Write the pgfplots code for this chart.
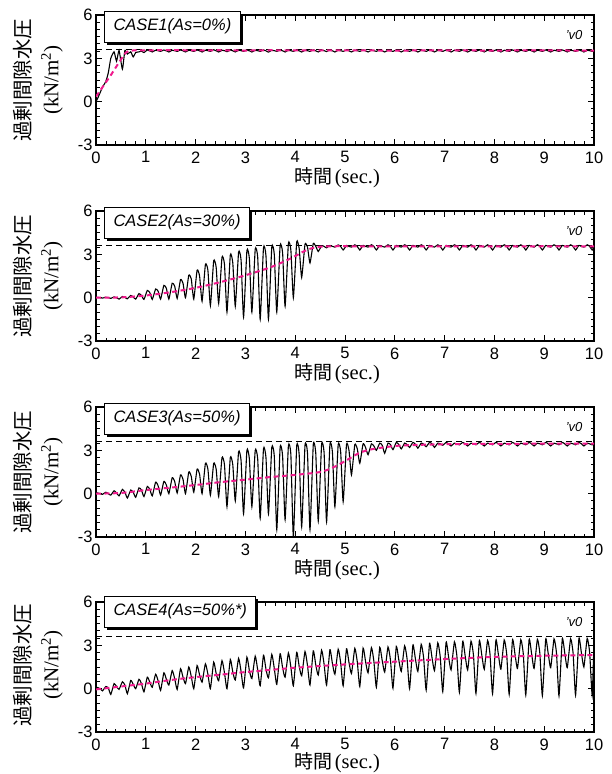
\documentclass[border=0pt]{standalone}
\usepackage{fontspec}
\setmainfont{Liberation Sans}
\newfontfamily\cjk{Noto Sans CJK JP}
\newfontfamily\tnr{Liberation Serif}
\usepackage{pgfplots}
\pgfplotsset{compat=1.18}
\usetikzlibrary{shadows}
\definecolor{Pink}{HTML}{F0198C}

\pgfplotsset{panel/.style={
  scale only axis, width=498pt, height=130pt, anchor=north west,
  xmin=0, xmax=10, ymin=-3, ymax=6,
  xtick={0,...,10}, ytick={-3,0,3,6},
  minor x tick num=4, minor y tick num=5,
  tick pos=both, tick align=inside,
  major tick length=6pt, minor tick length=3.5pt,
  axis line style={line width=1.4pt},
  tick style={black, line width=0.9pt},
  /pgf/number format/assume math mode=true,
  tick label style={font=\fontsize{16.5}{16.5}\selectfont},
  xticklabel style={yshift=-3pt},
}}
\tikzset{
  raw/.style={black, line width=1.1pt, smooth, tension=0.3},
  avg/.style={Pink, line width=2pt, dash pattern=on 5pt off 3.5pt, smooth},
  sig/.style={black, line width=0.9pt, dash pattern=on 6pt off 4pt},
}

\newcommand\deco[2]{%
  \node[rotate=90, font=\cjk\fontsize{20.5}{20.5}\selectfont] at (23pt,{-(#1+65)*1pt}) {過剰間隙水圧};
  \node[rotate=90, font=\tnr\fontsize{21}{21}\selectfont] at (52pt,{-(#1+65)*1pt}) {(kN/m\textsuperscript{2})};
  \node[inner sep=0pt] at (337pt,{-(#1+163)*1pt}) {{\cjk\fontsize{19}{19}\selectfont 時間} {\tnr\fontsize{20.5}{20.5}\selectfont (sec.)}};
  \node[anchor=north west, draw, line width=1pt, fill=white, inner xsep=9pt,
    minimum height=31pt, font=\itshape\fontsize{16.5}{16.5}\selectfont,
    drop shadow={shadow xshift=2.5pt, shadow yshift=-2.5pt, opacity=1, fill=black}]
    at (104pt,{-(#1-4.5)*1pt}) {#2};
}
\newcommand\sigv{\node[font=\itshape\fontsize{13}{13}\selectfont] at (axis cs:9.6,4.6) {'v0};}

\begin{document}
\begin{tikzpicture}
\path[use as bounding box] (0,0) rectangle (612pt,-774pt);

% ---------- CASE1
\begin{axis}[panel, at={(96pt,-15pt)}]
\addplot[sig] coordinates {(0,3.6) (10,3.6)};
\addplot[raw] coordinates {
(0,0)(0.03,0.2)(0.08,0.6)(0.13,1.0)(0.197,1.4)(0.247,2.0)(0.297,3.0)(0.363,3.45)(0.413,2.8)(0.463,3.55)(0.53,2.25)(0.58,3.55)(0.63,3.3)(0.697,3.45)(0.747,3.1)(0.797,3.4)(0.863,3.45)(0.913,3.5)(0.963,3.4)
(1.03,3.58)(1.08,3.52)(1.13,3.44)(1.197,3.56)(1.247,3.53)(1.297,3.48)(1.363,3.58)(1.413,3.52)(1.463,3.44)(1.53,3.56)(1.58,3.53)(1.63,3.48)(1.697,3.58)(1.747,3.52)(1.797,3.44)(1.863,3.56)(1.913,3.53)(1.963,3.48)
(2.03,3.58)(2.08,3.52)(2.13,3.44)(2.197,3.56)(2.247,3.53)(2.297,3.48)(2.363,3.6)(2.413,3.52)(2.463,3.44)(2.53,3.56)(2.58,3.53)(2.63,3.46)(2.697,3.58)(2.747,3.52)(2.797,3.44)(2.863,3.56)(2.913,3.53)(2.963,3.48)
(3.03,3.58)(3.08,3.52)(3.13,3.44)(3.197,3.56)(3.247,3.53)(3.297,3.48)(3.363,3.58)(3.413,3.52)(3.463,3.43)(3.53,3.56)(3.58,3.53)(3.63,3.48)(3.697,3.58)(3.747,3.52)(3.797,3.44)(3.863,3.56)(3.913,3.53)(3.963,3.48)
(4.03,3.58)(4.08,3.52)(4.13,3.44)(4.197,3.56)(4.247,3.53)(4.297,3.48)(4.363,3.58)(4.413,3.52)(4.463,3.44)(4.53,3.57)(4.58,3.53)(4.63,3.47)(4.697,3.58)(4.747,3.52)(4.797,3.44)(4.863,3.56)(4.913,3.53)(4.963,3.48)
(5.03,3.58)(5.08,3.52)(5.13,3.44)(5.197,3.56)(5.247,3.53)(5.297,3.48)(5.363,3.58)(5.413,3.52)(5.463,3.44)(5.53,3.56)(5.58,3.53)(5.63,3.48)(5.697,3.59)(5.747,3.52)(5.797,3.44)(5.863,3.56)(5.913,3.53)(5.963,3.48)
(6.03,3.58)(6.08,3.52)(6.13,3.44)(6.197,3.56)(6.247,3.53)(6.297,3.48)(6.363,3.58)(6.413,3.52)(6.463,3.44)(6.53,3.56)(6.58,3.53)(6.63,3.48)(6.697,3.58)(6.747,3.52)(6.797,3.44)(6.863,3.56)(6.913,3.53)(6.963,3.48)
(7.03,3.58)(7.08,3.52)(7.13,3.44)(7.197,3.56)(7.247,3.53)(7.297,3.48)(7.363,3.58)(7.413,3.52)(7.463,3.44)(7.53,3.56)(7.58,3.53)(7.63,3.48)(7.697,3.58)(7.747,3.52)(7.797,3.44)(7.863,3.56)(7.913,3.53)(7.963,3.48)
(8.03,3.58)(8.08,3.52)(8.13,3.44)(8.197,3.56)(8.247,3.53)(8.297,3.48)(8.363,3.58)(8.413,3.52)(8.463,3.44)(8.53,3.56)(8.58,3.53)(8.63,3.48)(8.697,3.58)(8.747,3.52)(8.797,3.44)(8.863,3.56)(8.913,3.53)(8.963,3.48)
(9.03,3.58)(9.08,3.52)(9.13,3.44)(9.197,3.56)(9.247,3.53)(9.297,3.48)(9.363,3.58)(9.413,3.52)(9.463,3.44)(9.53,3.56)(9.58,3.53)(9.63,3.48)(9.697,3.58)(9.747,3.52)(9.797,3.44)(9.863,3.56)(9.913,3.53)(9.963,3.48)(10,3.52)};
\addplot[avg] coordinates {(0,0.35)(0.15,1.1)(0.3,1.85)(0.45,2.65)(0.6,3.4)(0.7,3.52)(0.8,3.56)(1,3.55)(1.5,3.57)(2,3.55)(2.5,3.56)(3,3.54)(3.5,3.56)(4,3.55)(5,3.55)(6,3.54)(7,3.55)(8,3.54)(9,3.55)(10,3.53)};
\sigv
\end{axis}

% ---------- CASE2
\begin{axis}[panel, at={(96pt,-211pt)}]
\addplot[sig] coordinates {(0,3.6) (10,3.6)};
\addplot[raw] coordinates {
(0,0)(0.03,0.02)(0.08,0.0)(0.13,-0.03)(0.197,0.03)(0.247,0.0)(0.297,-0.05)(0.363,0.05)(0.413,0.0)(0.463,-0.1)(0.53,0.08)(0.58,0.02)(0.63,-0.08)(0.697,0.15)(0.747,0.05)(0.797,-0.1)(0.863,0.28)(0.913,0.15)(0.963,-0.12)
(1.03,0.5)(1.08,0.35)(1.13,-0.12)(1.197,0.6)(1.247,0.45)(1.297,-0.1)(1.363,0.85)(1.413,0.65)(1.463,-0.1)(1.53,1.0)(1.58,0.8)(1.63,-0.05)(1.697,1.25)(1.747,1.0)(1.797,0.0)(1.863,1.55)(1.913,1.3)(1.963,-0.1)
(2.03,1.9)(2.08,1.5)(2.13,-0.25)(2.197,2.3)(2.247,1.9)(2.297,-0.55)(2.363,2.55)(2.413,2.1)(2.463,-0.4)(2.53,2.8)(2.58,2.3)(2.63,-1.0)(2.697,2.95)(2.747,2.4)(2.797,-0.6)(2.863,3.15)(2.913,2.6)(2.963,-1.35)
(3.03,3.25)(3.08,2.7)(3.13,-1.0)(3.197,3.35)(3.247,2.8)(3.297,-1.5)(3.363,3.45)(3.413,2.9)(3.463,-1.5)(3.53,3.5)(3.58,3.0)(3.63,-1.0)(3.697,3.6)(3.747,3.1)(3.797,-0.6)(3.863,3.75)(3.913,3.3)(3.963,0.0)
(4.03,3.85)(4.08,3.4)(4.13,1.4)(4.197,3.7)(4.247,3.5)(4.297,2.4)(4.363,3.75)(4.413,3.55)(4.463,3.2)(4.53,3.6)(4.58,3.55)(4.63,3.45)(4.697,3.62)(4.747,3.55)(4.797,3.5)(4.863,3.65)(4.913,3.55)(4.963,3.3)
(5.03,3.62)(5.08,3.55)(5.13,3.5)(5.197,3.66)(5.247,3.55)(5.297,3.3)(5.363,3.62)(5.413,3.55)(5.463,3.5)(5.53,3.66)(5.58,3.55)(5.63,3.3)(5.697,3.62)(5.747,3.55)(5.797,3.5)(5.863,3.66)(5.913,3.55)(5.963,3.3)
(6.03,3.62)(6.08,3.55)(6.13,3.5)(6.197,3.66)(6.247,3.55)(6.297,3.3)(6.363,3.62)(6.413,3.55)(6.463,3.5)(6.53,3.66)(6.58,3.55)(6.63,3.3)(6.697,3.62)(6.747,3.55)(6.797,3.5)(6.863,3.66)(6.913,3.55)(6.963,3.3)
(7.03,3.62)(7.08,3.55)(7.13,3.5)(7.197,3.66)(7.247,3.55)(7.297,3.3)(7.363,3.62)(7.413,3.55)(7.463,3.5)(7.53,3.66)(7.58,3.55)(7.63,3.3)(7.697,3.62)(7.747,3.55)(7.797,3.5)(7.863,3.66)(7.913,3.55)(7.963,3.3)
(8.03,3.62)(8.08,3.55)(8.13,3.5)(8.197,3.66)(8.247,3.55)(8.297,3.3)(8.363,3.62)(8.413,3.55)(8.463,3.5)(8.53,3.66)(8.58,3.55)(8.63,3.3)(8.697,3.62)(8.747,3.55)(8.797,3.5)(8.863,3.66)(8.913,3.55)(8.963,3.3)
(9.03,3.62)(9.08,3.55)(9.13,3.5)(9.197,3.66)(9.247,3.55)(9.297,3.3)(9.363,3.62)(9.413,3.55)(9.463,3.5)(9.53,3.66)(9.58,3.55)(9.63,3.3)(9.697,3.62)(9.747,3.55)(9.797,3.5)(9.863,3.66)(9.913,3.55)(9.963,3.3)(10,3.55)};
\addplot[avg] coordinates {(0,0)(0.5,0.02)(1,0.15)(1.5,0.38)(2,0.68)(2.5,1.08)(3,1.55)(3.5,2.1)(3.9,2.7)(4.2,3.25)(4.4,3.48)(4.6,3.55)(5,3.56)(6,3.55)(7,3.56)(8,3.55)(9,3.56)(10,3.55)};
\sigv
\end{axis}

% ---------- CASE3
\begin{axis}[panel, at={(96pt,-407pt)}]
\addplot[sig] coordinates {(0,3.6) (10,3.6)};
\addplot[raw] coordinates {
(0,0)(0.03,0.05)(0.08,0.0)(0.13,-0.05)(0.197,0.1)(0.247,0.0)(0.297,-0.1)(0.363,0.2)(0.413,0.05)(0.463,-0.15)(0.53,0.3)(0.58,0.1)(0.63,-0.3)(0.697,0.25)(0.747,0.1)(0.797,-0.25)(0.863,0.4)(0.913,0.25)(0.963,-0.2)
(1.03,0.5)(1.08,0.3)(1.13,-0.15)(1.197,0.8)(1.247,0.55)(1.297,-0.1)(1.363,0.85)(1.413,0.6)(1.463,0.0)(1.53,1.1)(1.58,0.85)(1.63,0.05)(1.697,1.3)(1.747,1.0)(1.797,0.0)(1.863,1.5)(1.913,1.2)(1.963,0.1)
(2.03,1.7)(2.08,1.35)(2.13,0.0)(2.197,2.1)(2.247,1.7)(2.297,-0.1)(2.363,2.1)(2.413,1.7)(2.463,-0.2)(2.53,2.5)(2.58,2.0)(2.63,-0.9)(2.697,2.5)(2.747,2.0)(2.797,-0.5)(2.863,2.9)(2.913,2.3)(2.963,-1.4)
(3.03,3.0)(3.08,2.4)(3.13,-0.9)(3.197,3.0)(3.247,2.4)(3.297,-1.7)(3.363,3.1)(3.413,2.5)(3.463,-1.4)(3.53,3.2)(3.58,2.6)(3.63,-2.5)(3.697,3.2)(3.747,2.6)(3.797,-1.8)(3.863,3.3)(3.913,2.7)(3.963,-3.0)
(4.03,3.3)(4.08,2.7)(4.13,-2.3)(4.197,3.35)(4.247,2.8)(4.297,-2.5)(4.363,3.4)(4.413,2.8)(4.463,-1.9)(4.53,3.4)(4.58,2.85)(4.63,-1.95)(4.697,3.4)(4.747,2.9)(4.797,-0.9)(4.863,3.4)(4.913,2.9)(4.963,-0.55)
(5.03,3.4)(5.08,3.0)(5.13,1.3)(5.197,3.4)(5.247,3.1)(5.297,2.1)(5.363,3.45)(5.413,3.2)(5.463,2.7)(5.53,3.45)(5.58,3.3)(5.63,3.0)(5.697,3.5)(5.747,3.35)(5.797,2.8)(5.863,3.5)(5.913,3.4)(5.963,3.05)
(6.03,3.55)(6.08,3.4)(6.13,3.1)(6.197,3.5)(6.247,3.4)(6.297,3.2)(6.363,3.55)(6.413,3.42)(6.463,3.15)(6.53,3.5)(6.58,3.42)(6.63,3.25)(6.697,3.55)(6.747,3.45)(6.797,3.2)(6.863,3.5)(6.913,3.45)(6.963,3.35)
(7.03,3.55)(7.08,3.45)(7.13,3.3)(7.197,3.5)(7.247,3.45)(7.297,3.38)(7.363,3.55)(7.413,3.45)(7.463,3.3)(7.53,3.5)(7.58,3.45)(7.63,3.38)(7.697,3.55)(7.747,3.45)(7.797,3.3)(7.863,3.5)(7.913,3.45)(7.963,3.38)
(8.03,3.55)(8.08,3.45)(8.13,3.3)(8.197,3.5)(8.247,3.45)(8.297,3.38)(8.363,3.55)(8.413,3.45)(8.463,3.3)(8.53,3.5)(8.58,3.45)(8.63,3.38)(8.697,3.55)(8.747,3.45)(8.797,3.3)(8.863,3.5)(8.913,3.45)(8.963,3.38)
(9.03,3.55)(9.08,3.45)(9.13,3.3)(9.197,3.5)(9.247,3.45)(9.297,3.38)(9.363,3.55)(9.413,3.45)(9.463,3.3)(9.53,3.5)(9.58,3.45)(9.63,3.38)(9.697,3.55)(9.747,3.45)(9.797,3.3)(9.863,3.5)(9.913,3.45)(9.963,3.38)(10,3.45)};
\addplot[avg] coordinates {(0,0)(0.5,0.05)(1,0.25)(1.5,0.42)(2,0.6)(2.5,0.8)(3,0.97)(3.5,1.15)(4,1.3)(4.5,1.5)(4.75,1.8)(5,2.25)(5.25,2.75)(5.5,3.05)(6,3.3)(6.5,3.38)(7,3.42)(8,3.45)(9,3.46)(10,3.47)};
\sigv
\end{axis}

% ---------- CASE4
\begin{axis}[panel, at={(96pt,-602pt)}]
\addplot[sig] coordinates {(0,3.6) (10,3.6)};
\addplot[raw] coordinates {
(0,-0.05)(0.03,0.08)(0.08,0.0)(0.13,-0.15)(0.197,0.15)(0.247,0.05)(0.297,-0.4)(0.363,0.35)(0.413,0.15)(0.463,-0.05)(0.53,0.48)(0.58,0.25)(0.63,-0.35)(0.697,0.57)(0.747,0.3)(0.797,0.0)(0.863,0.65)(0.913,0.35)(0.963,-0.22)
(1.03,0.8)(1.08,0.45)(1.13,0.1)(1.197,1.0)(1.247,0.55)(1.297,-0.12)(1.363,1.1)(1.413,0.65)(1.463,0.25)(1.53,1.25)(1.58,0.7)(1.63,-0.05)(1.697,1.38)(1.747,0.8)(1.797,0.35)(1.863,1.5)(1.913,0.85)(1.963,0.0)
(2.03,1.6)(2.08,0.95)(2.13,0.45)(2.197,1.72)(2.247,1.0)(2.297,0.0)(2.363,1.84)(2.413,1.05)(2.463,0.55)(2.53,1.94)(2.58,1.1)(2.63,0.0)(2.697,2.02)(2.747,1.15)(2.797,0.6)(2.863,2.1)(2.913,1.2)(2.963,0.05)
(3.03,2.18)(3.08,1.25)(3.13,0.7)(3.197,2.25)(3.247,1.3)(3.297,0.2)(3.363,2.32)(3.413,1.35)(3.463,0.75)(3.53,2.37)(3.58,1.4)(3.63,0.3)(3.697,2.42)(3.747,1.45)(3.797,0.8)(3.863,2.47)(3.913,1.5)(3.963,0.2)
(4.03,2.52)(4.08,1.55)(4.13,0.9)(4.197,2.57)(4.247,1.6)(4.297,0.25)(4.363,2.62)(4.413,1.65)(4.463,0.95)(4.53,2.66)(4.58,1.7)(4.63,0.25)(4.697,2.7)(4.747,1.75)(4.797,1.0)(4.863,2.73)(4.913,1.8)(4.963,0.2)
(5.03,2.76)(5.08,1.82)(5.13,1.05)(5.197,2.79)(5.247,1.85)(5.297,0.15)(5.363,2.81)(5.413,1.88)(5.463,1.1)(5.53,2.84)(5.58,1.9)(5.63,0.1)(5.697,2.86)(5.747,1.95)(5.797,1.15)(5.863,2.89)(5.913,1.98)(5.963,0.03)
(6.03,2.92)(6.08,2.0)(6.13,1.2)(6.197,2.97)(6.247,2.05)(6.297,0.0)(6.363,3.02)(6.413,2.08)(6.463,1.2)(6.53,3.07)(6.58,2.1)(6.63,-0.1)(6.697,3.12)(6.747,2.15)(6.797,1.25)(6.863,3.17)(6.913,2.18)(6.963,-0.2)
(7.03,3.21)(7.08,2.2)(7.13,1.3)(7.197,3.24)(7.247,2.25)(7.297,-0.25)(7.363,3.26)(7.413,2.27)(7.463,1.3)(7.53,3.29)(7.58,2.3)(7.63,-0.33)(7.697,3.31)(7.747,2.32)(7.797,1.35)(7.863,3.34)(7.913,2.35)(7.963,-0.35)
(8.03,3.35)(8.08,2.36)(8.13,1.35)(8.197,3.37)(8.247,2.38)(8.297,-0.4)(8.363,3.38)(8.413,2.4)(8.463,1.4)(8.53,3.39)(8.58,2.41)(8.63,-0.44)(8.697,3.4)(8.747,2.42)(8.797,1.4)(8.863,3.41)(8.913,2.43)(8.963,-0.48)
(9.03,3.42)(9.08,2.44)(9.13,1.45)(9.197,3.44)(9.247,2.45)(9.297,-0.5)(9.363,3.45)(9.413,2.46)(9.463,1.45)(9.53,3.46)(9.58,2.47)(9.63,-0.45)(9.697,3.47)(9.747,2.48)(9.797,1.5)(9.863,3.48)(9.913,2.49)(9.963,-0.45)(10,3.3)};
\addplot[avg] coordinates {(0,-0.05)(0.5,0.15)(1,0.35)(1.5,0.6)(2,0.8)(2.5,0.97)(3,1.15)(3.5,1.3)(4,1.45)(5,1.68)(6,1.87)(7,2.05)(8,2.2)(9,2.28)(10,2.33)};
\sigv
\end{axis}

\deco{15}{CASE1(As=0\%)}
\deco{211}{CASE2(As=30\%)}
\deco{407}{CASE3(As=50\%)}
\deco{600}{CASE4(As=50\%*)}
\end{tikzpicture}
\end{document}
